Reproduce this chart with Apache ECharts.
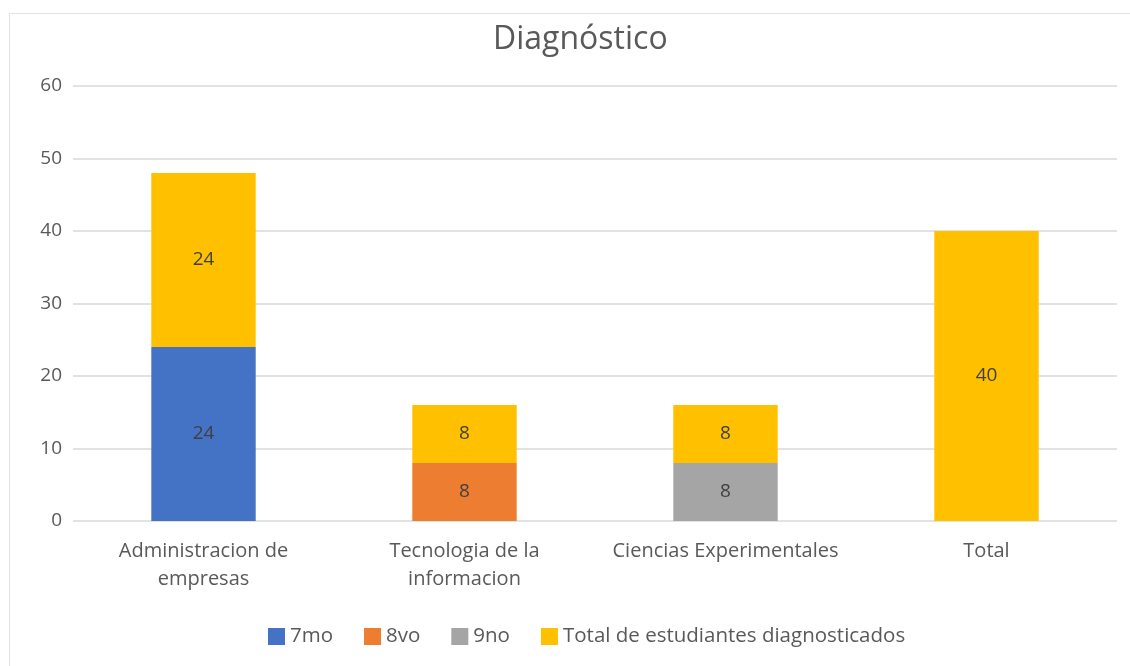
<!DOCTYPE html>
<html><head><meta charset="utf-8">
<script src="https://cdn.jsdelivr.net/npm/echarts@6/dist/echarts.min.js"></script>
<style>
html,body{margin:0;padding:0;background:#fff;}
#frame{position:absolute;left:9px;top:13px;width:1140px;height:680px;border:1px solid #e3e3e3;box-sizing:border-box;}
#c{position:absolute;left:0;top:0;width:1130px;height:666px;}
</style></head>
<body><div id="frame"></div><div id="c"></div>
<script>
const categories = ['Administracion de\nempresas', 'Tecnologia de la\ninformacion', 'Ciencias Experimentales', 'Total'];
const s7mo = [24, null, null, null];
const s8vo = [null, 8, null, null];
const s9no = [null, null, 8, null];
const sTotal = [24, 8, 8, 40];
const seriesNames = ['7mo', '8vo', '9no', 'Total de estudiantes diagnosticados'];
const colors = ['#4472C4', '#ED7D31', '#A5A5A5', '#FFC000'];

const font = '"Open Sans", "Noto Sans", sans-serif';
const chart = echarts.init(document.getElementById('c'), null, {renderer: 'canvas'});
const lbl = {show: true, position: 'inside', color: '#404040', fontSize: 19, fontFamily: font};
const mk = (name, data, i) => ({
  name, type: 'bar', stack: 'a', data, barWidth: '40%',
  itemStyle: {color: colors[i]}, label: lbl
});
chart.setOption({
  animation: false,
  title: {text: 'Diagnóstico', left: 488, top: 19,
    textStyle: {fontFamily: font, fontSize: 32, fontWeight: 'normal', color: '#595959'}},
  legend: {bottom: 14, left: 263, itemWidth: 17, itemHeight: 17, itemGap: 31,
    icon: 'rect', textStyle: {fontFamily: font, fontSize: 20.5, color: '#595959'},
    data: seriesNames},
  grid: {left: 73, right: 13, top: 86, bottom: 145},
  xAxis: {type: 'category', data: categories,
    axisLine: {show: false}, axisTick: {show: false},
    axisLabel: {fontFamily: font, fontSize: 20, color: '#595959', margin: 16, lineHeight: 28, interval: 0}},
  yAxis: {type: 'value', min: 0, max: 60, interval: 10,
    axisLine: {show: false}, axisTick: {show: false},
    splitLine: {lineStyle: {color: '#d9d9d9', width: 1.5}},
    axisLabel: {fontFamily: font, fontSize: 19, color: '#595959', margin: 11}},
  series: [mk(seriesNames[0], s7mo, 0), mk(seriesNames[1], s8vo, 1), mk(seriesNames[2], s9no, 2), mk(seriesNames[3], sTotal, 3)]
});
</script></body></html>
